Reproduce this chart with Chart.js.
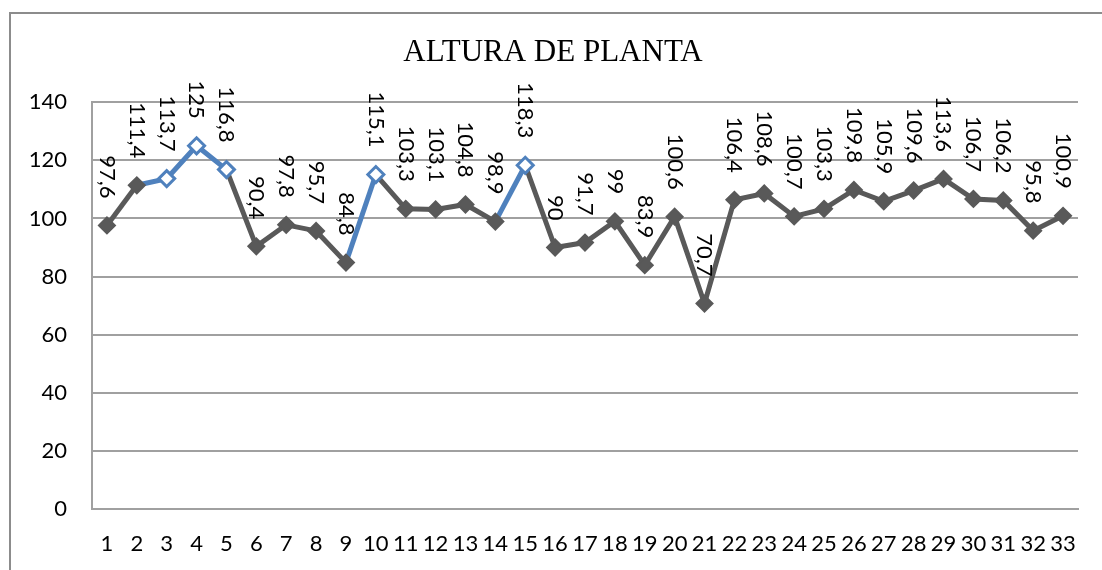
<!DOCTYPE html>
<html>
<head>
<meta charset="utf-8">
<script src="https://cdn.jsdelivr.net/npm/chart.js@4.4.0/dist/chart.umd.min.js"></script>
<style>
    html, body { margin: 0; padding: 0; background: #fff; overflow: hidden; }
    #wrap { position: relative; width: 1102px; height: 570px; overflow: hidden; }
    #frame {
        position: absolute; left: 9px; top: 12px; width: 2000px; height: 2000px;
        border-left: 2px solid #8c8c8c; border-top: 2px solid #8c8c8c;
    }
    #chart { position: absolute; left: 0; top: 0; }
</style>
</head>
<body>
<div id="wrap">
    <div id="frame"></div>
    <canvas id="chart" width="1102" height="570"></canvas>
</div>
<script>
// categories (plant number)
var plantas = ['1', '2', '3', '4', '5', '6', '7', '8', '9', '10', '11', '12', '13', '14', '15', '16', '17',
    '18', '19', '20', '21', '22', '23', '24', '25', '26', '27', '28', '29', '30', '31', '32', '33'];

// plant height values
var altura = [97.6, 111.4, 113.7, 125, 116.8, 90.4, 97.8, 95.7, 84.8, 115.1, 103.3, 103.1, 104.8, 98.9, 118.3,
    90, 91.7, 99, 83.9, 100.6, 70.7, 106.4, 108.6, 100.7, 103.3, 109.8, 105.9, 109.6, 113.6, 106.7, 106.2, 95.8, 100.9];

// y axis tick labels
var yTicks = [0, 20, 40, 60, 80, 100, 120, 140];

// points drawn as hollow blue diamonds (0-based)
var destacados = [2, 3, 4, 9, 14];

var gris = '#595959';
var azul = '#4f81bd';

var pointFill = altura.map(function (v, i) { return destacados.indexOf(i) >= 0 ? '#ffffff' : gris; });
var pointBorder = altura.map(function (v, i) { return destacados.indexOf(i) >= 0 ? azul : gris; });
var pointBorderW = altura.map(function (v, i) { return destacados.indexOf(i) >= 0 ? 3 : 2; });

// rotated value labels above each point
var etiquetasPlugin = {
    id: 'etiquetas',
    afterDatasetsDraw: function (chart) {
        var ctx = chart.ctx;
        var meta = chart.getDatasetMeta(0);
        ctx.save();
        ctx.font = '22px Lato';
        ctx.fillStyle = '#000';
        ctx.textAlign = 'right';
        ctx.textBaseline = 'middle';
        meta.data.forEach(function (pt, i) {
            var txt = String(altura[i]).replace('.', ',');
            ctx.save();
            ctx.translate(pt.x, pt.y - 27);
            ctx.rotate(Math.PI / 2);
            ctx.fillText(txt, 0, 0);
            ctx.restore();
        });
        ctx.restore();
    }
};

new Chart(document.getElementById('chart').getContext('2d'), {
    type: 'line',
    data: {
        labels: plantas,
        datasets: [{
            data: altura,
            borderColor: gris,
            borderWidth: 5,
            tension: 0,
            fill: false,
            pointStyle: 'rectRot',
            pointRadius: 8,
            pointHoverRadius: 8,
            pointBackgroundColor: pointFill,
            pointBorderColor: pointBorder,
            pointBorderWidth: pointBorderW,
            segment: {
                borderColor: function (c) {
                    return destacados.indexOf(c.p1DataIndex) >= 0 ? azul : gris;
                }
            }
        }]
    },
    options: {
        responsive: false,
        animation: false,
        devicePixelRatio: 1,
        layout: { padding: { left: 28, right: 24, top: 0, bottom: 0 } },
        plugins: {
            legend: { display: false },
            tooltip: { enabled: false },
            title: {
                display: true,
                text: 'ALTURA DE PLANTA',
                color: '#000',
                font: { family: 'Liberation Serif', size: 31, weight: 'normal', lineHeight: 1.2 },
                padding: { top: 34, bottom: 31 }
            }
        },
        scales: {
            x: {
                offset: true,
                grid: { display: false, drawTicks: false },
                border: { display: true, color: '#a0a0a0', width: 2 },
                ticks: {
                    color: '#000',
                    font: { family: 'Lato', size: 22 },
                    padding: 22,
                    autoSkip: false,
                    maxRotation: 0,
                    minRotation: 0
                },
                afterFit: function (s) { s.height = 61; }
            },
            y: {
                min: 0,
                max: 140,
                afterBuildTicks: function (s) {
                    s.ticks = yTicks.map(function (v) { return { value: v }; });
                },
                grid: { color: '#a0a0a0', lineWidth: 2, drawTicks: false },
                border: { display: true, color: '#a0a0a0', width: 2 },
                ticks: {
                    color: '#000',
                    font: { family: 'Lato', size: 22 },
                    padding: 25
                },
                afterFit: function (s) { s.width = 64; }
            }
        }
    },
    plugins: [etiquetasPlugin]
});
</script>
</body>
</html>
